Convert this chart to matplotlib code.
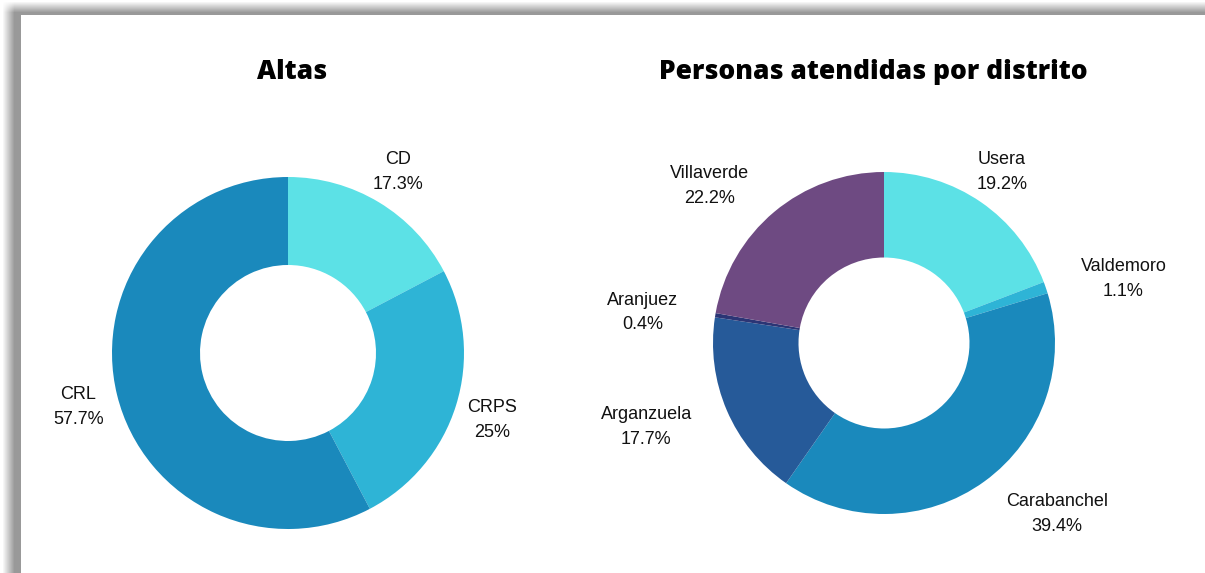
import numpy as np
import matplotlib
matplotlib.use("Agg")
import matplotlib.pyplot as plt

# ---- data ----
altas_labels = ["CD", "CRPS", "CRL"]
altas_values = [17.3, 25.0, 57.7]
altas_pct = ["17.3%", "25%", "57.7%"]
altas_colors = ["#5ce1e6", "#2eb4d6", "#1a89bc"]

dist_labels = ["Usera", "Valdemoro", "Carabanchel", "Arganzuela", "Aranjuez", "Villaverde"]
dist_values = [19.2, 1.1, 39.4, 17.7, 0.4, 22.2]
dist_pct = ["19.2%", "1.1%", "39.4%", "17.7%", "0.4%", "22.2%"]
dist_colors = ["#5ce1e6", "#2eb4d6", "#1a89bc", "#265a99", "#2b3575", "#6e4a82"]

titles = ["Altas", "Personas atendidas por distrito"]

W, H = 1205, 573
fig = plt.figure(figsize=(W / 100, H / 100), dpi=100)

# ---- background with shadow ----
bg = fig.add_axes([0, 0, 1, 1])
xs = np.arange(W)[None, :]
ys = np.arange(H)[:, None]
sx = np.clip((xs - 2) / 12.0, 0, 1)
sy = np.clip((ys - 1) / 11.0, 0, 1)
shade = sx * sy
img = 1.0 - 0.40 * shade
img = np.where((xs >= 21) & (ys >= 15), 1.0, img)
bg.imshow(np.dstack([img, img, img]), extent=[0, W, H, 0], aspect="auto", interpolation="bilinear")
bg.set_xlim(0, W)
bg.set_ylim(H, 0)
bg.axis("off")

label_font = dict(family=["Liberation Sans", "DejaVu Sans"], fontsize=13, color="#111111",
                  ha="center", va="center", linespacing=1.6)


def donut(cx, cy, r, values, colors, names, pcts, label_pos, title, title_x):
    ext = 1.7
    size = r * ext * 2
    ax = fig.add_axes([(cx - r * ext) / W, (H - cy - r * ext) / H, size / W, size / H])
    ax.pie(values, colors=colors, startangle=90, counterclock=False, radius=1,
           wedgeprops=dict(width=0.5, linewidth=0))
    ax.set_xlim(-ext, ext)
    ax.set_ylim(-ext, ext)
    ax.set_aspect("equal")
    ax.axis("off")
    for name, p, (lx, ly) in zip(names, pcts, label_pos):
        ax.text(lx, ly - 0.012, f"{name}\n{p}", clip_on=False, **label_font)
    fig.text(title_x / W, 1 - 72 / H, title, ha="center", va="center",
             family=["Open Sans", "DejaVu Sans"], fontweight="heavy", fontsize=19, color="#000000")


donut(288, 353, 176, altas_values, altas_colors, altas_labels, altas_pct,
      [(0.625, 1.04), (1.16, -0.37), (-1.19, -0.295)], titles[0], 292)
donut(884, 343, 171, dist_values, dist_colors, dist_labels, dist_pct,
      [(0.69, 1.01), (1.40, 0.386), (1.01, -0.99), (-1.39, -0.48), (-1.41, 0.19), (-1.02, 0.93)],
      titles[1], 873)

fig.savefig("out.png", dpi=100)
